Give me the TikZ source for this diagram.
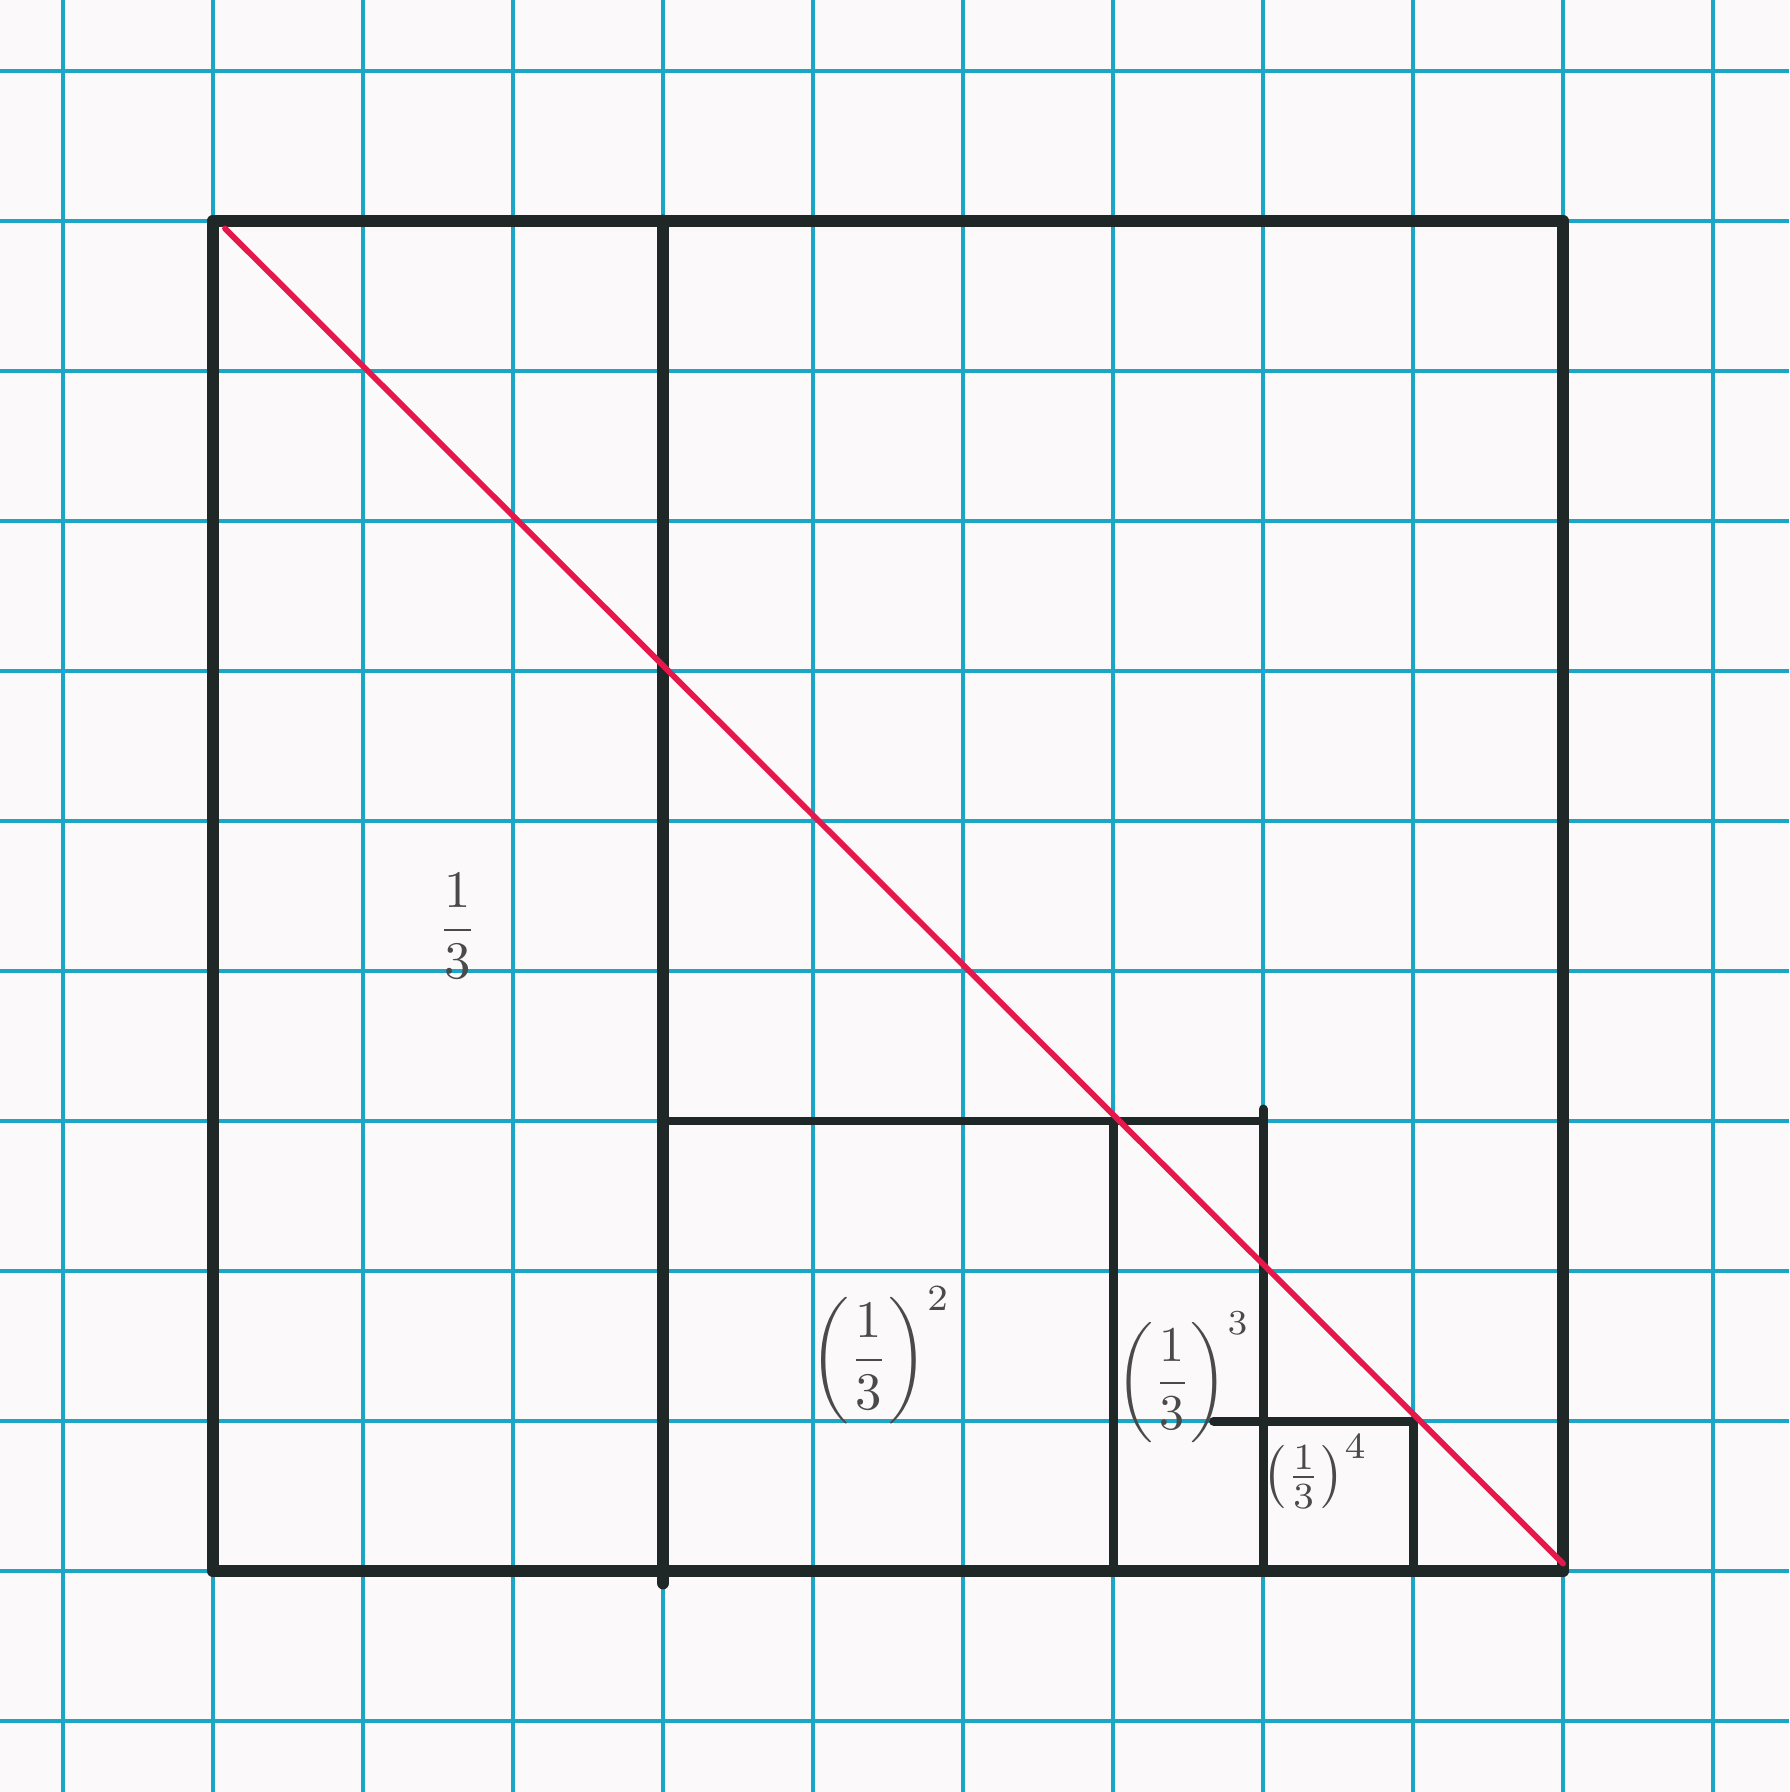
\documentclass[tikz,border=0pt]{standalone}
\usepackage{amsmath}
\definecolor{gridc}{HTML}{1AA6C4}
\definecolor{pencil}{HTML}{1F2727}
\definecolor{redpen}{HTML}{E5184B}
\definecolor{labelc}{HTML}{4A4A4A}
\definecolor{paper}{HTML}{FBF9F9}
\tikzset{
  gridline/.style={gridc, line width=0.65pt},
  outerline/.style={pencil, line width=2.4pt, line cap=round, line join=round},
  innerline/.style={pencil, line width=1.7pt, line cap=round},
  thinline/.style={pencil, line width=1.5pt, line cap=round},
  diag/.style={redpen, line width=1.1pt, line cap=round},
  lbl/.style={labelc, inner sep=0pt}
}
\begin{document}
\begin{tikzpicture}
\useasboundingbox (-1.42,-1.473) rectangle (10.507,10.473);
\fill[paper] (-1.42,-1.473) rectangle (10.507,10.473);
% grid paper
\foreach \x in {-1,...,10} \draw[gridline] (\x,-1.473) -- (\x,10.473);
\foreach \y in {-1,...,10} \draw[gridline] (-1.42,\y) -- (10.507,\y);
% named points
\coordinate (A) at (0,9);
\coordinate (B) at (9,9);
\coordinate (C) at (9,0);
\coordinate (D) at (0,0);
\coordinate (T3) at (3,9);
\coordinate (B3) at (3,-0.08);
\coordinate (M3) at (3,3);
\coordinate (M7) at (7,3);
\coordinate (T7) at (7,3.08);
\coordinate (M6) at (6,3);
\coordinate (B6) at (6,0);
\coordinate (B7) at (7,0);
\coordinate (H1) at (6.67,1);
\coordinate (H8) at (8,1);
\coordinate (B8) at (8,0);
\coordinate (R1) at (0.08,8.95);
\coordinate (R2) at (9,0.05);
% outer square and strips
\draw[outerline] (A) -- (B) -- (C) -- (D) -- cycle;
\draw[outerline] (T3) -- (B3);
\draw[thinline] (M3) -- (M7);
\draw[innerline] (M6) -- (B6);
\draw[innerline] (T7) -- (B7);
\draw[innerline] (H1) -- (H8) -- (B8);
% red diagonal
\draw[diag] (R1) -- (R2);
% labels
\node[lbl] (L1) at (1.63,4.3) {$\dfrac{1}{3}$};
\node[lbl] (L2) at (4.45,1.44) {$\left(\dfrac{1}{3}\right)^{2}$};
\node[lbl, scale=0.95] (L3) at (6.47,1.29) {$\left(\dfrac{1}{3}\right)^{3}$};
\node[lbl] (L4) at (7.35,0.66) {$\left(\tfrac{1}{3}\right)^{4}$};
\end{tikzpicture}
\end{document}
